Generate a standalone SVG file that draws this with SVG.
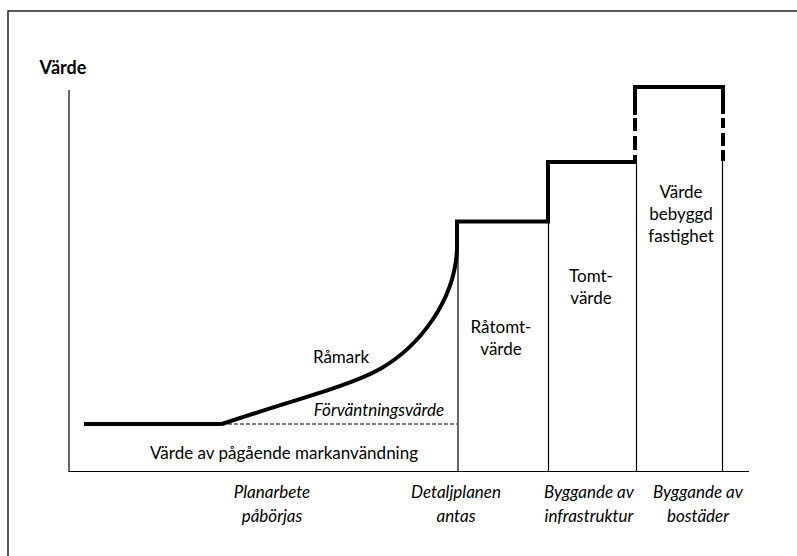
<svg xmlns="http://www.w3.org/2000/svg" width="797" height="556" viewBox="0 0 797 556">
<style>
text{font-family:Lato,"Liberation Sans",sans-serif;font-size:17px;fill:#000;text-anchor:middle}
.it{font-style:italic}
.thick{fill:none;stroke:#000;stroke-width:4}
.thin{fill:none;stroke:#000;stroke-width:1.2}
</style>
<rect x="8" y="11" width="800" height="560" fill="#fff" stroke="#222" stroke-width="1.5"/>
<g id="axes">
<line class="thin" x1="69" y1="90" x2="69" y2="471.5"/>
<line class="thin" x1="68.5" y1="471.5" x2="749" y2="471.5" stroke-width="1.5"/>
<text x="63" y="74" style="font-weight:bold;font-size:18px">Värde</text>
</g>
<g id="connectors">
<path class="thick" d="M84,424 H222 C290,401 350,386 380,369 C420,346 455,300 457,249 V221.5 H548 V162 H637"/>
<path class="thick" d="M635,115 V87 H723 V114"/>
<path class="thick" d="M635,118 V131 M635,136 V150 M635,155 V161"/>
<path class="thick" d="M723,118 V128 M723,133 V146 M723,150 V161"/>
<line x1="222" y1="424" x2="457" y2="424" stroke="#000" stroke-width="1" stroke-dasharray="4,2"/>
<line class="thin" x1="458" y1="240" x2="458" y2="471"/>
<line class="thin" x1="548.5" y1="221" x2="548.5" y2="471"/>
<line class="thin" x1="636.5" y1="162" x2="636.5" y2="471"/>
<line class="thin" x1="722.5" y1="160" x2="722.5" y2="471"/>
</g>
<g id="ramark"><text x="341" y="363">Råmark</text></g>
<g id="forvantning"><text class="it" x="379" y="416">Förväntningsvärde</text></g>
<g id="pagaende"><text x="284" y="459">Värde av pågående markanvändning</text></g>
<g id="ratomt"><text x="501" y="333">Råtomt-</text><text x="501" y="355">värde</text></g>
<g id="tomt"><text x="591" y="282">Tomt-</text><text x="591" y="304">värde</text></g>
<g id="bebyggd"><text x="681" y="198">Värde</text><text x="681" y="220">bebyggd</text><text x="681" y="242">fastighet</text></g>
<g id="planarbete"><text class="it" x="272" y="498">Planarbete</text><text class="it" x="272" y="522">påbörjas</text></g>
<g id="detaljplan"><text class="it" x="456" y="498">Detaljplanen</text><text class="it" x="456" y="522">antas</text></g>
<g id="infra"><text class="it" x="589" y="498">Byggande av</text><text class="it" x="589" y="522">infrastruktur</text></g>
<g id="bostader"><text class="it" x="698" y="498">Byggande av</text><text class="it" x="698" y="522">bostäder</text></g>
</svg>
